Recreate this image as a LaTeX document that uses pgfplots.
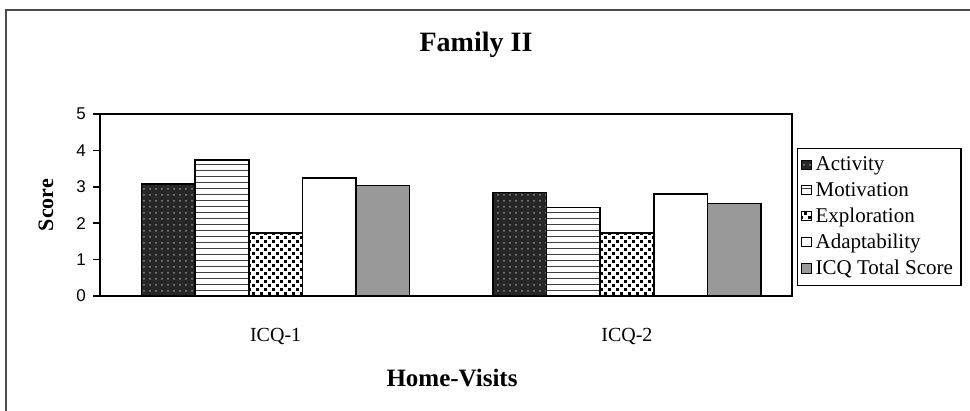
\documentclass[border=0pt]{standalone}
\usepackage{fontspec}
\setmainfont{Liberation Serif}
\newfontfamily\arial{Liberation Sans}
\usepackage{pgfplots}
\pgfplotsset{compat=1.18}
\usetikzlibrary{patterns}
\pgfdeclarepatternformonly{bigdots}{\pgfpoint{-1pt}{-1pt}}{\pgfpoint{5pt}{5pt}}{\pgfpoint{4pt}{4pt}}{%
  \pgfpathrectangle{\pgfpoint{0pt}{0pt}}{\pgfpoint{1.4pt}{1.4pt}}%
  \pgfpathrectangle{\pgfpoint{2pt}{2pt}}{\pgfpoint{1.4pt}{1.4pt}}%
  \pgfusepath{fill}}
\begin{document}
\begin{tikzpicture}
\useasboundingbox (0,0) rectangle (485pt,205.5pt);
\draw[black!70, line width=1pt] (3pt,0) -- (3pt,200.5pt) -- (485pt,200.5pt);
\node[font=\bfseries\fontsize{14}{16}\selectfont] at (238pt,183pt) {Family II};
\node[font=\bfseries\fontsize{12.5}{14}\selectfont] at (226pt,16.5pt) {Home-Visits};
\node[font=\bfseries\fontsize{11}{13}\selectfont, rotate=90] at (23pt,103pt) {Score};
\begin{axis}[
  at={(50pt,57.5pt)}, anchor=south west,
  scale only axis, width=346pt, height=91pt,
  ybar=0pt, bar width=26.8pt,
  xmin=-0.5, xmax=1.47, ymin=0, ymax=5,
  xtick={0,1}, xticklabels={ICQ-1,ICQ-2},
  x tick style={draw=none},
  xticklabel style={font=\fontsize{10}{12}\selectfont, yshift=-9pt},
  ytick={0,1,2,3,4,5}, ytick pos=left,
  tick align=outside, major tick length=3.5pt,
  ytick style={line width=0.8pt, black},
  yticklabel style={font=\arial\fontsize{8.5}{10}\selectfont},
  /pgf/number format/assume math mode=true,
  axis line style={line width=0.9pt},
  every axis plot/.append style={draw=black, line width=0.8pt},
  legend cell align=left,
  legend style={at={(1.007,0.813)}, anchor=north west, draw=black, line width=0.6pt,
    font=\fontsize{10.5}{11}\selectfont, row sep=0.3pt, inner sep=2pt},
  legend image code/.code={\draw[#1, line width=0.5pt] (0pt,-2.2pt) rectangle (4.6pt,2.4pt);},
]
\addplot[fill=black!85, postaction={pattern=dots, pattern color=black!45}] coordinates {(0,3.08) (1,2.84)};
\addplot[fill=white, postaction={pattern=horizontal lines, pattern color=black!75}] coordinates {(0,3.74) (1,2.43)};
\addplot[fill=white, postaction={pattern=bigdots, pattern color=black}] coordinates {(0,1.73) (1,1.73)};
\addplot[fill=white] coordinates {(0,3.24) (1,2.80)};
\addplot[fill=black!40] coordinates {(0,3.04) (1,2.54)};
\legend{Activity,Motivation,Exploration,Adaptability,ICQ Total Score}
\end{axis}
\end{tikzpicture}
\end{document}
